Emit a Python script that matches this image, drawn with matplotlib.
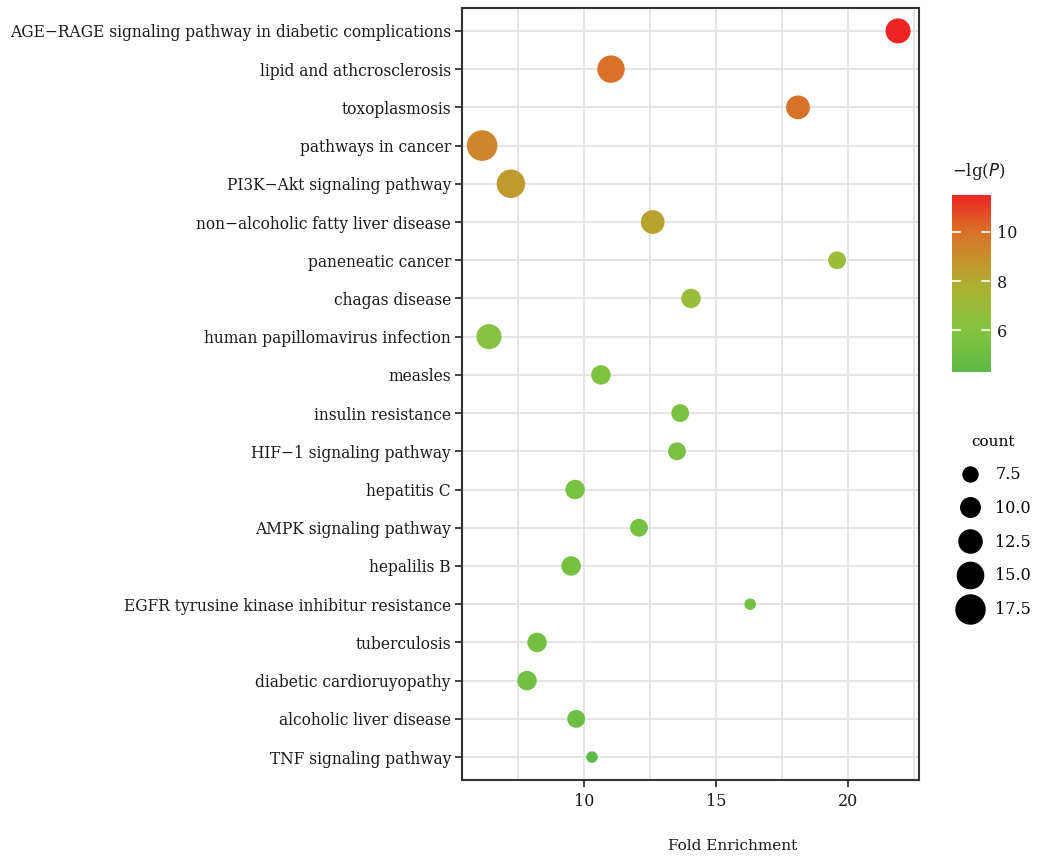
import matplotlib
matplotlib.use("Agg")
import matplotlib.pyplot as plt
import numpy as np
from matplotlib.colors import LinearSegmentedColormap, Normalize
from matplotlib.lines import Line2D

plt.rcParams["font.family"] = ["DejaVu Serif"]

pathways = [
    "AGE\u2212RAGE signaling pathway in diabetic complications",
    "lipid and athcrosclerosis",
    "toxoplasmosis",
    "pathways in cancer",
    "PI3K\u2212Akt signaling pathway",
    "non\u2212alcoholic fatty liver disease",
    "paneneatic cancer",
    "chagas disease",
    "human papillomavirus infection",
    "measles",
    "insulin resistance",
    "HIF\u22121 signaling pathway",
    "hepatitis C",
    "AMPK signaling pathway",
    "hepalilis B",
    "EGFR tyrusine kinase inhibitur resistance",
    "tuberculosis",
    "diabetic cardioruyopathy",
    "alcoholic liver disease",
    "TNF signaling pathway",
]
fold_enrichment = [21.89, 11.02, 18.10, 6.14, 7.23, 12.60, 19.58, 14.05, 6.40, 10.64,
                   13.64, 13.52, 9.66, 12.08, 9.51, 16.29, 8.22, 7.84, 9.70, 10.30]
neg_log_p = [11.5, 10.0, 9.9, 9.3, 8.6, 8.3, 7.0, 6.9, 6.0, 5.8,
             5.6, 5.6, 5.5, 5.4, 5.4, 5.3, 5.2, 5.2, 5.0, 4.3]
counts = [14, 16, 13, 19, 17, 13, 9, 10, 14, 10,
          9, 9, 10, 9, 10, 6, 10, 10, 9, 6]
legend_counts = [7.5, 10.0, 12.5, 15.0, 17.5]
cbar_ticks = [6, 8, 10]

cmap = LinearSegmentedColormap.from_list(
    "gr", [(0.0, "#5DBB47"), (0.25, "#86C43F"), (0.45, "#A8B536"),
           (0.62, "#C4962E"), (0.8, "#DC6E28"), (1.0, "#EE2424")])


def area(c):
    # marker area (pt^2) grows linearly with count, offset so small counts stay visible
    return 32.1 * (np.asarray(c, dtype=float) - 3.87)


fig = plt.figure(figsize=(10.39, 8.58), dpi=100)
ax = fig.add_axes([0.4447, 0.0909, 0.4400, 0.8998])

n = len(pathways)
ypos = np.arange(n)[::-1]
norm = Normalize(vmin=min(neg_log_p), vmax=max(neg_log_p))
ax.scatter(fold_enrichment, ypos, s=area(counts), c=neg_log_p, cmap=cmap,
           norm=norm, linewidths=0, zorder=3)

ax.set_xlim(5.38, 22.69)
ax.set_ylim(-0.6, n - 0.4)
ax.set_yticks(ypos)
ax.set_yticklabels(pathways, fontsize=11.2, color="#1a1a1a")
ax.set_xticks([10, 15, 20])
ax.set_xticks([7.5, 12.5, 17.5, 22.5], minor=True)
ax.tick_params(axis="x", labelsize=11.5, labelcolor="#1a1a1a", length=5, width=1.3,
               color="#333333", pad=4)
ax.tick_params(axis="x", which="minor", length=0)
ax.tick_params(axis="y", length=5, width=1.3, color="#333333", pad=3)
ax.grid(True, which="both", color="#e3e3e3", lw=1.3, zorder=0)
ax.set_axisbelow(True)
for sp in ax.spines.values():
    sp.set_color("#333333")
    sp.set_linewidth(1.5)
fig.text(0.7055, 0.014, "Fold Enrichment", fontsize=11, color="#1a1a1a",
         ha="center", va="center")

# colour bar
cax = fig.add_axes([0.9163, 0.5664, 0.0366, 0.2063])
grad = np.linspace(norm.vmin, norm.vmax, 256).reshape(-1, 1)
cax.imshow(grad, aspect="auto", cmap=cmap, norm=norm, origin="lower",
           extent=[0, 1, norm.vmin, norm.vmax])
cax.set_xlim(0, 1)
cax.set_xticks([])
cax.yaxis.tick_right()
cax.set_yticks(cbar_ticks)
cax.tick_params(axis="y", length=0, labelsize=11.5, labelcolor="#1a1a1a", pad=5)
for t in cbar_ticks:
    cax.plot([0, 0.2], [t, t], color="white", lw=1.2)
    cax.plot([0.8, 1], [t, t], color="white", lw=1.2)
for sp in cax.spines.values():
    sp.set_visible(False)
fig.text(0.916, 0.800, r"$-$lg($\mathit{P}$)", fontsize=12, color="#1a1a1a",
         ha="left", va="center")

# size legend
handles = [Line2D([], [], ls="none", marker="o", color="black",
                  markersize=np.sqrt(area(c))) for c in legend_counts]
fig.legend(handles, [f"{c:.1f}" for c in legend_counts], title="count",
           loc="upper left", bbox_to_anchor=(0.912, 0.5), frameon=False,
           fontsize=11.5, title_fontsize=11, labelspacing=1.05,
           handletextpad=0.6, borderaxespad=0)

fig.savefig("out.png", dpi=100)
